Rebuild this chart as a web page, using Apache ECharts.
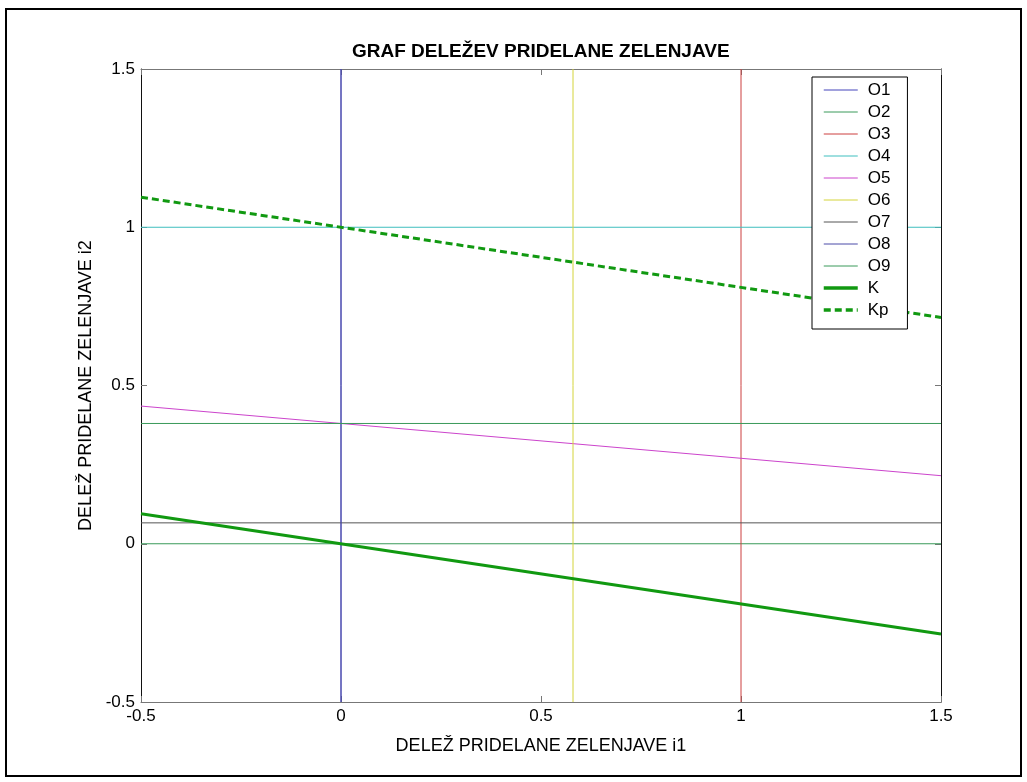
<!DOCTYPE html>
<html>
<head>
<meta charset="utf-8">
<script src="https://cdn.jsdelivr.net/npm/echarts@6/dist/echarts.min.js"></script>
<style>
  html, body { margin: 0; padding: 0; background: #fff; }
  #main { width: 1027px; height: 782px; }
</style>
</head>
<body>
<div id="main"></div>
<script>
// podatki
var xTicks = [-0.5, 0, 0.5, 1, 1.5];
var yTicks = [-0.5, 0, 0.5, 1, 1.5];
var names = ['O1', 'O2', 'O3', 'O4', 'O5', 'O6', 'O7', 'O8', 'O9', 'K', 'Kp'];
// vsaka omejitev kot par tock [x, y]
var o1 = [[0, -0.5], [0, 1.5]];
var o2 = [[-0.5, 0], [1.5, 0]];
var o3 = [[1, -0.5], [1, 1.5]];
var o4 = [[-0.5, 1], [1.5, 1]];
var o5 = [[-0.5, 0.435], [1.5, 0.215]];
var o6 = [[0.58, -0.5], [0.58, 1.5]];
var o7 = [[-0.5, 0.066], [1.5, 0.066]];
var o8 = [[0, -0.5], [0, 1.5]];
var o9 = [[-0.5, 0.38], [1.5, 0.38]];
var k = [[-0.5, 0.095], [1.5, -0.285]];
var kp = [[-0.5, 1.095], [1.5, 0.715]];

var lines = [o1, o2, o3, o4, o5, o6, o7, o8, o9, k, kp];
var colors = ['#4444bb', '#3a9a5a', '#cc3f3f', '#3fbfbf', '#cc44cc', '#d4d43a', '#555555', '#4a4aa8', '#3a9a5a', '#119911', '#119911'];

var font = '"Liberation Sans", Arial, sans-serif';

var myChart = echarts.init(document.getElementById('main'));

var series = [];
var legendData = [];
for (var i = 0; i < names.length; i++) {
    var thick = names[i] === 'K' || names[i] === 'Kp';
    var dash = names[i] === 'Kp' ? [7, 4] : 'solid';
    series.push({
        name: names[i],
        type: 'line',
        data: lines[i],
        symbol: 'none',
        silent: true,
        z: thick ? 3 : 2,
        lineStyle: {
            color: colors[i],
            width: thick ? 3 : 1,
            type: dash
        },
        itemStyle: { color: colors[i] }
    });
    legendData.push({
        name: names[i],
        lineStyle: { color: colors[i], width: thick ? 3.5 : 1, type: dash }
    });
}

var option = {
    backgroundColor: '#fff',
    animation: false,
    title: {
        text: 'GRAF DELEŽEV PRIDELANE ZELENJAVE',
        left: 347,
        top: 37,
        textStyle: { fontFamily: font, fontSize: 19, fontWeight: 'bold', color: '#000' }
    },
    legend: {
        data: legendData,
        orient: 'vertical',
        left: 812,
        top: 77,
        itemWidth: 34,
        itemHeight: 14,
        itemGap: 4,
        padding: [4, 17, 10, 10],
        borderColor: '#000',
        borderWidth: 1,
        backgroundColor: '#fff',
        itemStyle: { opacity: 0 },
        textStyle: { fontFamily: font, fontSize: 17, color: '#000', lineHeight: 18, padding: [0, 0, 0, 5] }
    },
    grid: { left: 141, top: 69, width: 800, height: 633, containLabel: false },
    xAxis: [{
        type: 'value',
        min: -0.5, max: 1.5, interval: 0.5,
        name: 'DELEŽ PRIDELANE ZELENJAVE i1',
        nameLocation: 'middle',
        nameGap: 35,
        nameTextStyle: { fontFamily: font, fontSize: 18, color: '#000' },
        axisLine: { onZero: false, lineStyle: { color: '#777', width: 1 } },
        axisTick: { inside: true, length: 6, lineStyle: { color: '#777' } },
        axisLabel: {
            fontFamily: font, fontSize: 17, color: '#000', margin: 6,
            formatter: function (v) { return xTicks.indexOf(v) >= 0 ? String(v) : ''; }
        },
        splitLine: { show: false }
    }, {
        type: 'value', position: 'top',
        min: -0.5, max: 1.5, interval: 0.5,
        axisLine: { onZero: false, lineStyle: { color: '#777', width: 1 } },
        axisTick: { inside: true, length: 6, lineStyle: { color: '#777' } },
        axisLabel: { show: false },
        splitLine: { show: false }
    }],
    yAxis: [{
        type: 'value',
        min: -0.5, max: 1.5, interval: 0.5,
        name: 'DELEŽ PRIDELANE ZELENJAVE i2',
        nameLocation: 'middle',
        nameGap: 40,
        nameTextStyle: { fontFamily: font, fontSize: 18, color: '#000' },
        axisLine: { show: true, onZero: false, lineStyle: { color: '#111', width: 1 } },
        axisTick: { show: true, inside: true, length: 6, lineStyle: { color: '#777' } },
        axisLabel: {
            fontFamily: font, fontSize: 17, color: '#000', margin: 6,
            formatter: function (v) { return yTicks.indexOf(v) >= 0 ? String(v) : ''; }
        },
        splitLine: { show: false }
    }, {
        type: 'value', position: 'right',
        min: -0.5, max: 1.5, interval: 0.5,
        axisLine: { show: true, onZero: false, lineStyle: { color: '#111', width: 1 } },
        axisTick: { show: true, inside: true, length: 6, lineStyle: { color: '#777' } },
        axisLabel: { show: false },
        splitLine: { show: false }
    }],
    graphic: [{
        type: 'rect',
        shape: { x: 6, y: 9, width: 1015, height: 767 },
        style: { fill: 'none', stroke: '#000', lineWidth: 2 },
        silent: true
    }],
    series: series
};

myChart.setOption(option);
</script>
</body>
</html>
